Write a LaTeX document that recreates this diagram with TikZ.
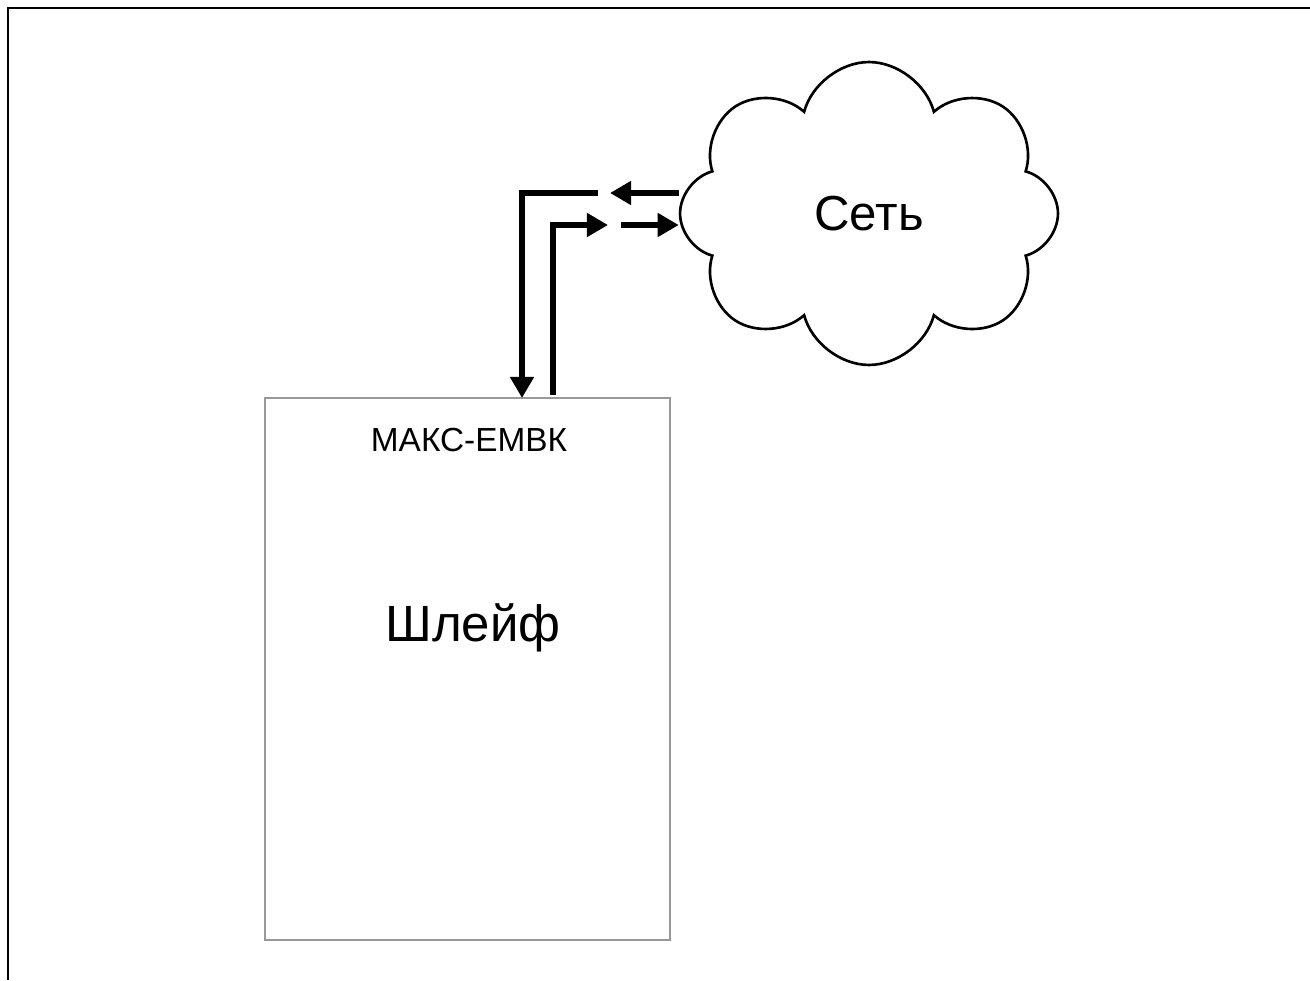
\documentclass[tikz,border=0pt]{standalone}
\usepackage{fontspec}
\setmainfont{Liberation Sans}
\usetikzlibrary{shapes.symbols,arrows.meta}

\begin{document}
\begin{tikzpicture}[x=0.02cm,y=-0.02cm,
  link/.style={line width=3pt,-{Triangle[length=12pt,width=13pt]}}]
  \useasboundingbox (0,0) rectangle (1310,980);
  \draw [line width=1.4pt] (8,980) -- (8,8) -- (1310,8);
  \node [draw=gray!80,line width=0.9pt,minimum width=8.1cm,minimum height=10.84cm] (box) at (467.5,669) {};
  \node [font=\fontsize{19}{22}\selectfont] (name) at (469,440) {МАКС-ЕМВК};
  \node [font=\fontsize{29}{33}\selectfont] (loop) at (473,628) {Шлейф};
  \node [cloud,cloud puffs=8,cloud ignores aspect,draw,line width=1.5pt,inner sep=0pt,
    minimum width=7.56cm,minimum height=6.06cm,font=\fontsize{28}{32}\selectfont] (net) at (869,213.5) {Сеть};
  \coordinate (ga) at (610,193);
  \coordinate (gb) at (598,193);
  \coordinate (gc) at (608,225);
  \coordinate (gd) at (621,225);
  \coordinate (bd) at (522,398);
  \coordinate (bu) at (553,395);
  \draw [link] (net.west |- ga) -- (ga);
  \draw [link] (gb) -| (bd);
  \draw [link] (bu) |- (gc);
  \draw [link] (gd) -- (net.west |- gd);
\end{tikzpicture}
\end{document}
